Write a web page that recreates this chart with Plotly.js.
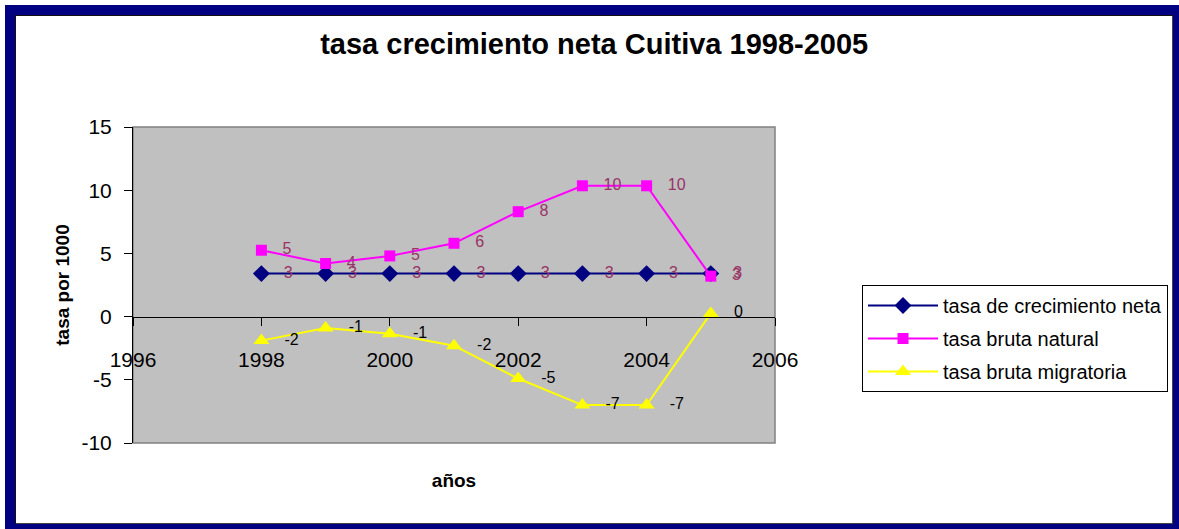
<!DOCTYPE html>
<html>
<head>
<meta charset="utf-8">
<script src="https://cdn.plot.ly/plotly-3.0.1.min.js"></script>
<style>
  html, body { margin: 0; padding: 0; overflow: hidden; background: #fff; }
  #chart { position: absolute; left: 0; top: 0; width: 1179px; height: 529px; }
  #frame { position: absolute; left: 5px; top: 5px; width: 1178px; height: 529px; box-sizing: border-box;
           border: 10px solid #000080; box-shadow: inset 1px 1px 0 #111, inset -1px -1px 0 #444; pointer-events: none; }
</style>
</head>
<body>
<div id="chart"></div>
<div id="frame"></div>
<script>
// Data
const years = [1998, 1999, 2000, 2001, 2002, 2003, 2004, 2005];
const netaValues = [3.4, 3.4, 3.4, 3.4, 3.4, 3.4, 3.4, 3.4];
const naturalValues = [5.25, 4.2, 4.8, 5.8, 8.3, 10.35, 10.35, 3.2];
const migratoriaValues = [-1.9, -0.9, -1.35, -2.3, -4.9, -7.0, -7.0, 0.25];
const netaLabels = ["3", "3", "3", "3", "3", "3", "3", "3"];
const naturalLabels = ["5", "4", "5", "6", "8", "10", "10", "3"];
const migratoriaLabels = ["-2", "-1", "-1", "-2", "-5", "-7", "-7", "0"];
const seriesNames = ["tasa de crecimiento neta", "tasa bruta natural", "tasa bruta migratoria"];
const xTickValues = [1996, 1998, 2000, 2002, 2004, 2006];
const yTickValues = [-10, -5, 0, 5, 10, 15];
const yTickText = ["-10", "-5", "0", "5", "10", "15"];

const FONT = "Liberation Sans, Arial, sans-serif";

const traces = [
  {
    x: years, y: netaValues, name: seriesNames[0], legendgroup: "a",
    mode: "lines+markers+text", text: netaLabels, textposition: "middle right",
    texttemplate: "   %{text}",
    textfont: { family: FONT, size: 16, color: "#993366" },
    line: { color: "#000080", width: 2 },
    marker: { symbol: "diamond", size: 13, color: "#000080" },
    cliponaxis: false
  },
  {
    x: years, y: naturalValues, name: seriesNames[1], legendgroup: "b",
    mode: "lines+markers+text", text: naturalLabels, textposition: "middle right",
    texttemplate: "   %{text}",
    textfont: { family: FONT, size: 16, color: "#993366" },
    line: { color: "#FF00FF", width: 2 },
    marker: { symbol: "square", size: 11, color: "#FF00FF" },
    cliponaxis: false
  },
  {
    x: years, y: migratoriaValues, name: seriesNames[2], legendgroup: "c",
    mode: "lines+markers+text", text: migratoriaLabels, textposition: "middle right",
    texttemplate: "   %{text}",
    textfont: { family: FONT, size: 16, color: "#000000" },
    line: { color: "#FFFF00", width: 2 },
    marker: { symbol: "triangle-up", size: 14, color: "#FFFF00" },
    cliponaxis: false
  }
];

const layout = {
  width: 1179, height: 529,
  margin: { l: 133, r: 403, t: 127, b: 86 },
  paper_bgcolor: "#ffffff",
  plot_bgcolor: "#C0C0C0",
  font: { family: FONT, color: "#000" },
  title: {
    text: "<b>tasa crecimiento neta Cuitiva 1998-2005</b>",
    font: { family: FONT, size: 29, color: "#000" },
    x: 0.504, xref: "container", xanchor: "center",
    y: 1 - 44 / 529, yref: "container", yanchor: "middle"
  },
  xaxis: {
    range: [1996, 2006],
    tickvals: xTickValues,
    ticktext: xTickValues.map(String),
    anchor: "free", position: 0.4,
    showline: true, linecolor: "#000", linewidth: 1,
    ticks: "outside", ticklen: 8, tickcolor: "#000",
    ticklabelstandoff: 16,
    tickfont: { family: FONT, size: 21, color: "#000" },
    showgrid: false, zeroline: false,
    title: { text: "<b>años</b>", font: { family: FONT, size: 19, color: "#000" }, standoff: 103 }
  },
  yaxis: {
    range: [-10, 15],
    tickvals: yTickValues,
    ticktext: yTickText,
    showline: true, linecolor: "#000", linewidth: 1,
    ticks: "outside", ticklen: 8, tickcolor: "#000",
    ticklabelstandoff: 8,
    tickfont: { family: FONT, size: 21, color: "#000" },
    showgrid: false, zeroline: false,
    title: { text: "<b>tasa por 1000</b>", font: { family: FONT, size: 19, color: "#000" }, standoff: 6 }
  },
  legend: {
    x: (862 - 133) / 643, xanchor: "left",
    y: (443 - 285) / 316, yanchor: "top",
    bgcolor: "#ffffff", bordercolor: "#000", borderwidth: 1,
    font: { family: FONT, size: 20, color: "#000" },
    traceorder: "grouped", tracegroupgap: 4,
    itemwidth: 70
  },
  shapes: [
    { type: "rect", xref: "paper", yref: "paper", x0: 0, x1: 1, y0: 0, y1: 1,
      line: { color: "#808080", width: 1.5 }, layer: "below" }
  ],
  showlegend: true
};

Plotly.newPlot("chart", traces, layout, { displayModeBar: false, staticPlot: true });
</script>
</body>
</html>
